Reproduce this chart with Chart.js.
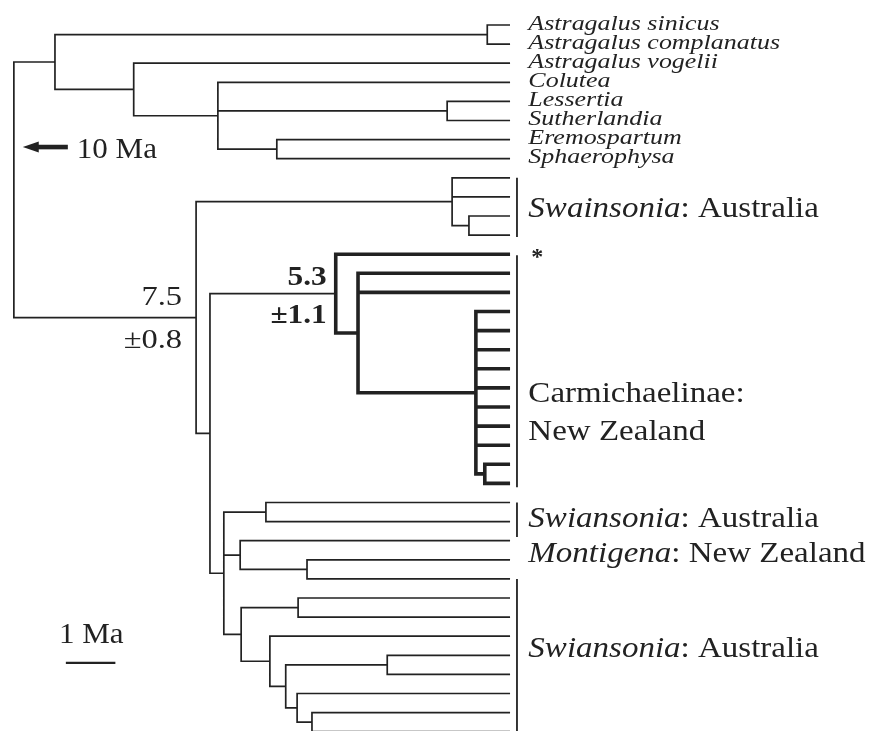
<!DOCTYPE html>
<html>
<head>
<meta charset="utf-8">
<script src="https://cdn.jsdelivr.net/npm/chart.js@4.4.1/dist/chart.umd.min.js"></script>
<style>
  html, body { margin: 0; padding: 0; background: #fff; }
  #wrap { width: 875px; height: 731px; position: relative; }
</style>
</head>
<body>
<div id="wrap"><canvas id="canvas"></canvas></div>
<script>
// tip rows, top to bottom; only the outgroup tips carry a name
const tipNames = ["Astragalus sinicus", "Astragalus complanatus", "Astragalus vogelii", "Colutea",
  "Lessertia", "Sutherlandia", "Eremospartum", "Sphaerophysa"];
const tipCount = 38;

// internal nodes: age in Ma (read with the 1 Ma bar), children (number = tip row, string = node)
const nodeIds = ["n0","n1","n2","n3","n4","n5","n6","n7","n8","n9","n10","n11","n12",
  "n13","n14","n15","n16","n17","n18","n19","n20","n21","n22","n23","n24","n25"];
const nodeAges = [10.02, 9.19, 0.46, 7.60, 5.90, 6.34, 1.27, 4.71, 1.17, 0.83, 6.06, 3.52, 3.07,
  0.69, 0.51, 5.78, 4.93, 5.45, 4.10, 5.43, 4.28, 4.85, 4.53, 2.48, 4.30, 4.00];
const nodeKids = [
  ["n1","n5"], ["n2","n3"], [0,1], [2,"n4"], [3,"n6","n7"], ["n8","n10"], [4,5], [6,7],
  [8,9,"n9"], [10,11], ["n11","n15"], [12,"n12"], [13,14,"n13"],
  [15,16,17,18,19,20,21,22,"n14"], [23,24], ["n16","n17","n19"], [25,26], [27,"n18"], [28,29],
  ["n20","n21"], [30,31], [32,"n22"], ["n23","n24"], [33,34], [35,"n25"], [36,37]
];
// Carmichaelinae clade drawn heavy
const thickNodes = ["n11","n12","n13","n14"];

// dated nodes
const datedNodes = ["n5", "n11"];
const datedText = [["7.5", "±0.8"], ["5.3", "±1.1"]];

// bars to the right of the tips (row ranges)
const bracketTop = [8.0, 12.05, 25.0, 29.0];
const bracketBottom = [11.1, 24.2, 26.8, 37.6];

// group labels (baseline row)
const groupParts = [
  [["Swainsonia","i"], [": Australia","n"]],
  [["*","b"]],
  [["Carmichaelinae:","n"]],
  [["New Zealand","n"]],
  [["Swiansonia","i"], [": Australia","n"]],
  [["Montigena","i"], [": New Zealand","n"]],
  [["Swiansonia","i"], [": Australia","n"]]
];
const groupRows = [10.05, 12.5, 19.74, 21.73, 26.28, 28.12, 33.09];

const scaleBarAge = [8.97, 7.97];

function kidRow(c) {
  if (typeof c === "number") return c;
  const k = nodeIds.indexOf(c);
  const kids = nodeKids[k];
  return (kidRow(kids[0]) + kidRow(kids[kids.length - 1])) / 2;
}
function kidAge(c) {
  return typeof c === "number" ? 0 : nodeAges[nodeIds.indexOf(c)];
}

let thin = [], thick = [];
nodeIds.forEach((id, k) => {
  const kids = nodeKids[k], a = nodeAges[k];
  const out = thickNodes.includes(id) ? thick : thin;
  const f = kids[0], l = kids[kids.length - 1];
  out.push({x: kidAge(f), y: kidRow(f)}, {x: a, y: kidRow(f)}, {x: a, y: kidRow(l)},
    {x: kidAge(l), y: kidRow(l)}, {x: null, y: null});
  kids.slice(1, -1).forEach(c => {
    out.push({x: a, y: kidRow(c)}, {x: kidAge(c), y: kidRow(c)}, {x: null, y: null});
  });
});

let bars = [];
for (let i = 0; i < bracketTop.length; i++) {
  bars.push({x: -0.14, y: bracketTop[i]}, {x: -0.14, y: bracketBottom[i]}, {x: null, y: null});
}

const ink = "#222";
const serif = "'Liberation Serif', 'Times New Roman', serif";

function fontFor(style, size) {
  if (style === "i") return "italic " + size + "px " + serif;
  if (style === "b") return "bold " + size + "px " + serif;
  return size + "px " + serif;
}
function drawParts(ctx, parts, px, py, size, stretch, align) {
  ctx.save();
  ctx.translate(px, py);
  ctx.scale(stretch, 1);
  ctx.textBaseline = "alphabetic";
  ctx.textAlign = "left";
  let w = 0;
  parts.forEach(p => { ctx.font = fontFor(p[1], size); w += ctx.measureText(p[0]).width; });
  let cx = align === "right" ? -w : 0;
  parts.forEach(p => {
    ctx.font = fontFor(p[1], size);
    ctx.fillText(p[0], cx, 0);
    cx += ctx.measureText(p[0]).width;
  });
  ctx.restore();
}

const treeText = {
  id: "treeText",
  afterDatasetsDraw(chart) {
    const ctx = chart.ctx, xs = chart.scales.x, ys = chart.scales.y;
    ctx.save();
    ctx.fillStyle = ink;
    const lx = xs.getPixelForValue(-0.37);
    tipNames.forEach((t, i) => {
      drawParts(ctx, [[t, "i"]], lx, ys.getPixelForValue(i) + 4.5, 22, 1.18, "left");
    });
    groupParts.forEach((parts, i) => {
      const star = parts[0][0] === "*";
      drawParts(ctx, parts, star ? lx + 3 : lx, ys.getPixelForValue(groupRows[i]),
        star ? 24 : 30, star ? 1 : 1.1, "left");
    });
    datedNodes.forEach((id, i) => {
      const k = nodeIds.indexOf(id);
      const nx = xs.getPixelForValue(nodeAges[k]);
      const ny = ys.getPixelForValue(kidRow(id));
      const bold = id === "n11";
      const st = bold ? "b" : "n";
      drawParts(ctx, [[datedText[i][0], st]], nx - (bold ? 9 : 14), ny - (bold ? 8.6 : 12.5), bold ? 27 : 28, 1.16, "right");
      drawParts(ctx, [[datedText[i][1], st]], nx - (bold ? 9 : 14), ny + (bold ? 29.4 : 30.5), bold ? 27 : 28, 1.16, "right");
    });
    // arrow toward the older root
    const ay = ys.getPixelForValue(6.39);
    const ax0 = xs.getPixelForValue(9.84), ax1 = xs.getPixelForValue(8.93);
    ctx.beginPath();
    ctx.moveTo(ax0, ay);
    ctx.lineTo(ax0 + 16, ay - 5.5);
    ctx.lineTo(ax0 + 16, ay + 5.5);
    ctx.closePath();
    ctx.fill();
    ctx.fillRect(ax0 + 14, ay - 2.3, ax1 - ax0 - 14, 4.6);
    drawParts(ctx, [["10 Ma", "n"]], xs.getPixelForValue(8.75), ys.getPixelForValue(6.96), 29, 1.07, "left");
    drawParts(ctx, [["1 Ma", "n"]], xs.getPixelForValue(9.11), ys.getPixelForValue(32.36), 29, 1.07, "left");
    ctx.restore();
  }
};

const lineSet = (data, w) => ({
  data: data, showLine: true, borderColor: ink, borderWidth: w, pointRadius: 0,
  borderJoinStyle: "miter", borderCapStyle: "butt", spanGaps: false, fill: false
});

new Chart(document.getElementById("canvas").getContext("2d"), {
  type: "scatter",
  data: {
    datasets: [
      lineSet(thin, 1.7),
      lineSet(thick, 3.6),
      lineSet(bars, 1.8),
      lineSet([{x: scaleBarAge[0], y: 33.4}, {x: scaleBarAge[1], y: 33.4}], 2.2)
    ]
  },
  options: {
    responsive: true,
    maintainAspectRatio: false,
    animation: false,
    layout: { padding: 0 },
    plugins: { legend: { display: false }, tooltip: { enabled: false } },
    scales: {
      x: { type: "linear", min: -7.37, max: 10.30, reverse: true, display: false },
      y: { type: "linear", min: -1.309, max: 36.963, reverse: true, display: false }
    }
  },
  plugins: [treeText]
});
</script>
</body>
</html>
